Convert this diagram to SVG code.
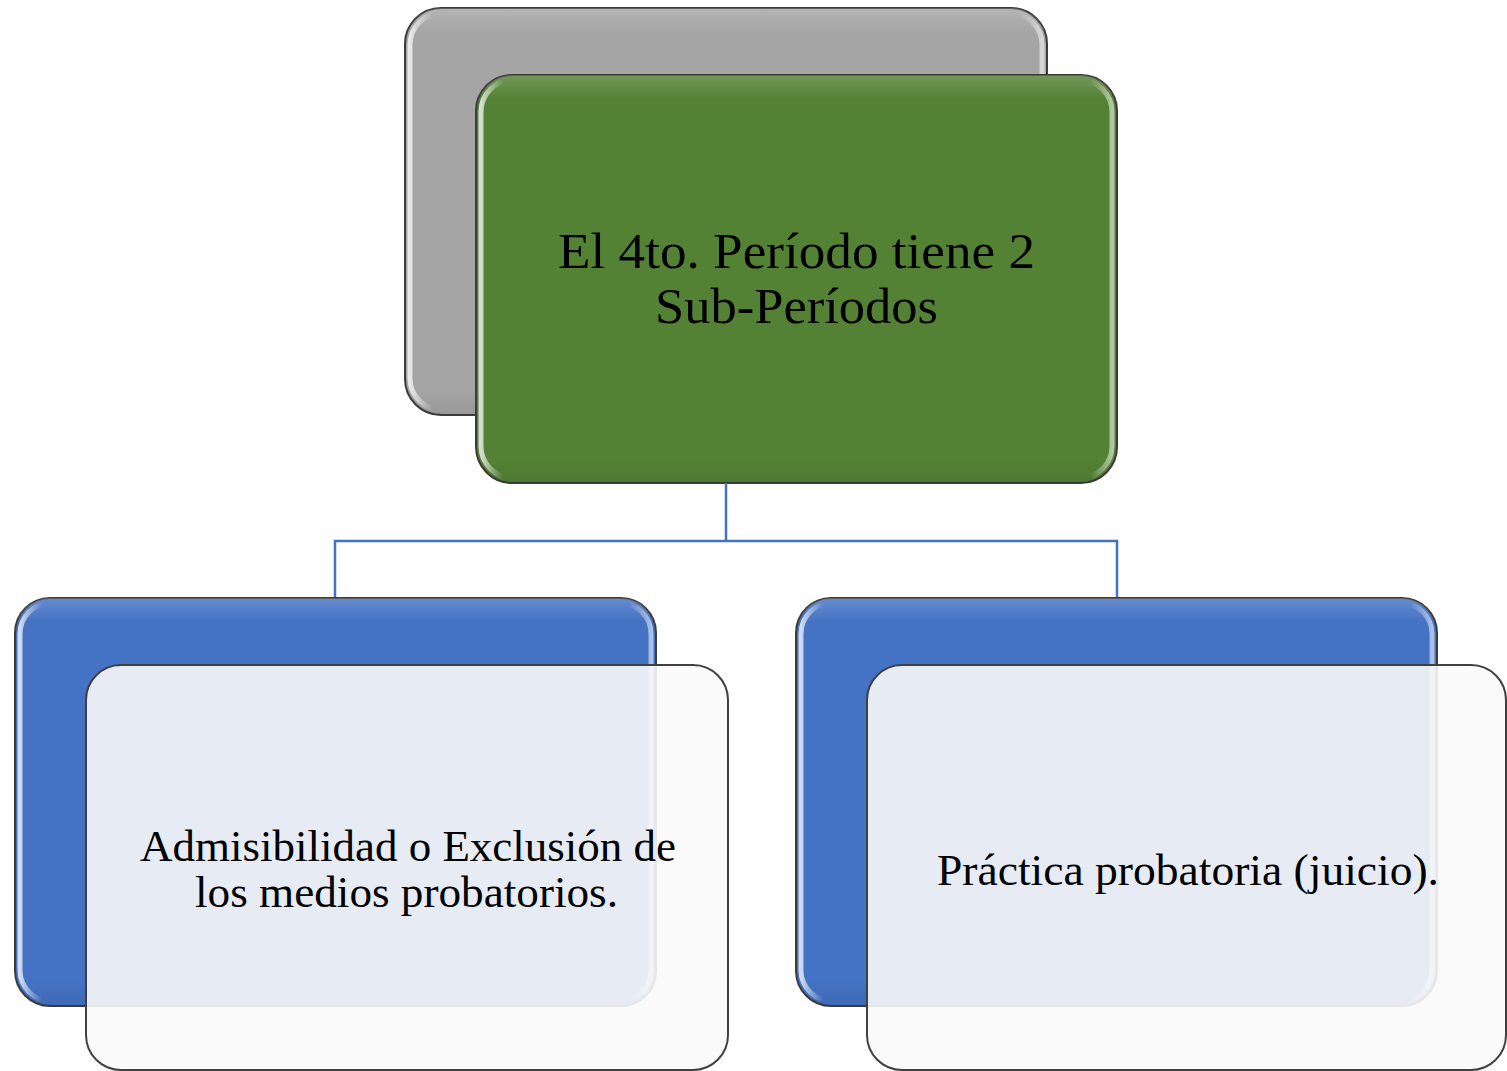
<svg xmlns="http://www.w3.org/2000/svg" width="1507" height="1071" viewBox="0 0 1507 1071">
  <defs>
    <linearGradient id="hl" x1="0" y1="0" x2="1" y2="0">
      <stop offset="0" stop-color="#ffffff" stop-opacity="0.75"/>
      <stop offset="0.035" stop-color="#ffffff" stop-opacity="0"/>
      <stop offset="0.965" stop-color="#ffffff" stop-opacity="0"/>
      <stop offset="1" stop-color="#ffffff" stop-opacity="0.55"/>
    </linearGradient>
    <linearGradient id="topband" x1="0" y1="0" x2="0" y2="1">
      <stop offset="0" stop-color="#ffffff" stop-opacity="0.18"/>
      <stop offset="0.06" stop-color="#ffffff" stop-opacity="0"/>
      <stop offset="0.94" stop-color="#000000" stop-opacity="0"/>
      <stop offset="1" stop-color="#000000" stop-opacity="0.08"/>
    </linearGradient>
  </defs>
  <style>
    .box { stroke: #3c3c3c; stroke-width: 2; }
    .gray { fill: #a5a5a5; }
    .green { fill: #548235; }
    .blue { fill: #4472c4; }
    .shade { fill: url(#topband); stroke: none; }
    .gloss { fill: none; stroke: url(#hl); stroke-width: 5; }
    .light { fill: #fafafa; fill-opacity: 0.9; stroke: #404040; stroke-width: 2; }
    .conn { fill: none; stroke: #4472c4; stroke-width: 2.5; }
    .t { font-family: "Liberation Serif", "Times New Roman", serif; fill: #000000; text-anchor: middle; }
    .big { font-size: 50px; }
    .mid { font-size: 44px; }
  </style>

  <g id="node-back-gray">
    <rect class="box gray" x="405" y="8" width="642" height="407" rx="36" ry="36"/>
    <rect class="shade" x="405" y="8" width="642" height="407" rx="36" ry="36"/>
    <rect class="gloss" x="410" y="13" width="632" height="397" rx="32" ry="32"/>
  </g>

  <g id="node-main">
    <rect class="box green" x="476" y="75" width="641" height="408" rx="36" ry="36"/>
    <rect class="shade" x="476" y="75" width="641" height="408" rx="36" ry="36"/>
    <rect class="gloss" x="481" y="80" width="631" height="398" rx="32" ry="32"/>
    <text class="t big" x="796.5" y="268" textLength="477" lengthAdjust="spacingAndGlyphs">El 4to. Período tiene 2</text>
    <text class="t big" x="796.5" y="323" textLength="283" lengthAdjust="spacingAndGlyphs">Sub-Períodos</text>
  </g>

  <g id="connectors">
    <path class="conn" d="M726 483 V541"/>
    <path class="conn" d="M335 598 V541 H1117 V598"/>
  </g>

  <g id="node-left">
    <rect class="box blue" x="15" y="598" width="641" height="408" rx="35" ry="35"/>
    <rect class="shade" x="15" y="598" width="641" height="408" rx="35" ry="35"/>
    <rect class="gloss" x="20" y="603" width="631" height="398" rx="31" ry="31"/>
    <rect class="light" x="86" y="665" width="642" height="405" rx="35" ry="35"/>
    <text class="t mid" x="408" y="861" textLength="536" lengthAdjust="spacingAndGlyphs">Admisibilidad o Exclusión de</text>
    <text class="t mid" x="406.5" y="907" textLength="423" lengthAdjust="spacingAndGlyphs">los medios probatorios.</text>
  </g>

  <g id="node-right">
    <rect class="box blue" x="796" y="598" width="641" height="408" rx="35" ry="35"/>
    <rect class="shade" x="796" y="598" width="641" height="408" rx="35" ry="35"/>
    <rect class="gloss" x="801" y="603" width="631" height="398" rx="31" ry="31"/>
    <rect class="light" x="867" y="665" width="639" height="405" rx="35" ry="35"/>
    <text class="t mid" x="1188" y="885" textLength="502" lengthAdjust="spacingAndGlyphs">Práctica probatoria (juicio).</text>
  </g>
</svg>
